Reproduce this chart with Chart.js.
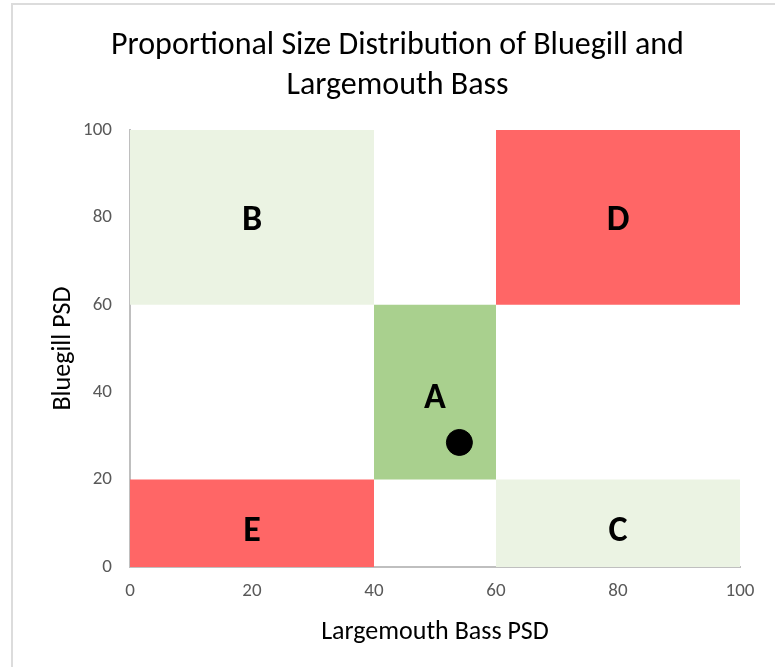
<!DOCTYPE html>
<html>
<head>
<meta charset="utf-8">
<script src="https://cdn.jsdelivr.net/npm/chart.js@4/dist/chart.umd.min.js"></script>
<style>
  body { margin: 0; background: #fff; }
  #wrap { position: relative; width: 775px; height: 667px; overflow: hidden; }
  #frame { position: absolute; left: 11px; top: 3px; width: 900px; height: 900px;
           border-left: 2px solid #dcdcdc; border-top: 2px solid #dcdcdc; pointer-events: none; }
</style>
</head>
<body>
<div id="wrap">
  <canvas id="grafico" width="775" height="667"></canvas>
  <div id="frame"></div>
</div>
<script>
// zonas (limites em PSD)
const zonas = ['A', 'B', 'C', 'D', 'E']
const zonaX0 = [40, 0, 60, 60, 0]
const zonaX1 = [60, 40, 100, 100, 40]
const zonaY0 = [20, 60, 0, 60, 0]
const zonaY1 = [60, 100, 20, 100, 20]
const zonaCores = ['#a9d08e', '#ebf3e3', '#ebf3e3', '#ff6666', '#ff6666']

// posicao das letras (centro)
const letraX = [50, 20, 80, 80, 20]
const letraY = [39.4, 80, 9, 80, 9]

// amostra
const bassPSD = [54]
const bluegillPSD = [28.5]

const ticks = [0, 20, 40, 60, 80, 100]

const fonte = 'Calibri, Carlito, Lato, sans-serif'

const datasets = zonas.map((z, i) => ({
    label: z,
    type: 'line',
    data: [{ x: zonaX0[i], y: zonaY1[i] }, { x: zonaX1[i], y: zonaY1[i] }],
    fill: { value: zonaY0[i] },
    backgroundColor: zonaCores[i],
    borderWidth: 0,
    pointRadius: 0,
    tension: 0,
    order: 2
}))

datasets.push({
    label: 'Amostra',
    type: 'scatter',
    data: bassPSD.map((v, i) => ({ x: v, y: bluegillPSD[i] })),
    backgroundColor: '#000',
    borderColor: '#000',
    pointRadius: 13,
    order: 1
})

// escreve as letras nas zonas
const letrasPlugin = {
    id: 'letras',
    afterDatasetsDraw(chart) {
        const ctx = chart.ctx
        const sx = chart.scales.x
        const sy = chart.scales.y
        const tam = 36
        ctx.save()
        ctx.font = 'bold ' + tam + 'px ' + fonte
        ctx.fillStyle = '#000'
        ctx.textAlign = 'center'
        ctx.textBaseline = 'alphabetic'
        zonas.forEach((z, i) => {
            // altura de maiuscula ~0.72em
            ctx.fillText(z, sx.getPixelForValue(letraX[i]), sy.getPixelForValue(letraY[i]) + tam * 0.36)
        })
        ctx.restore()
    }
}

new Chart(document.getElementById('grafico'), {
    type: 'scatter',
    data: { datasets: datasets },
    plugins: [letrasPlugin],
    options: {
        responsive: false,
        animation: false,
        layout: { padding: { left: 20, right: 0, top: 0, bottom: 0 } },
        plugins: {
            legend: { display: false },
            tooltip: { enabled: false },
            title: {
                display: true,
                text: ['Proportional Size Distribution of Bluegill and', 'Largemouth Bass'],
                color: '#000',
                font: { family: fonte, size: 32, weight: 'normal', lineHeight: 1.25 },
                padding: { top: 26, bottom: 24 }
            }
        },
        scales: {
            x: {
                type: 'linear',
                min: 0,
                max: 100,
                afterBuildTicks: s => { s.ticks = ticks.map(v => ({ value: v })) },
                grid: { display: false, drawTicks: false },
                border: { display: true, color: '#bfbfbf', width: 2 },
                ticks: { color: '#595959', padding: 13, font: { family: fonte, size: 19 } },
                title: {
                    display: true,
                    text: 'Largemouth Bass PSD',
                    color: '#000',
                    font: { family: fonte, size: 26 },
                    padding: { top: 10, bottom: 19 }
                },
                afterFit: s => { s.height = 100 }
            },
            y: {
                type: 'linear',
                min: 0,
                max: 100,
                afterBuildTicks: s => { s.ticks = ticks.map(v => ({ value: v })) },
                grid: { display: false, drawTicks: false },
                border: { display: true, color: '#bfbfbf', width: 2 },
                ticks: { color: '#595959', padding: 18, font: { family: fonte, size: 19 } },
                title: {
                    display: true,
                    text: 'Bluegill PSD',
                    color: '#000',
                    font: { family: fonte, size: 26 },
                    padding: { top: 28, bottom: 0 }
                },
                afterFit: s => { s.width = 110 }
            },
            // margem direita vazia
            y2: {
                type: 'linear',
                position: 'right',
                min: 0,
                max: 100,
                grid: { display: false, drawTicks: false },
                border: { display: false },
                ticks: { display: false },
                afterFit: s => { s.width = 35 }
            }
        }
    }
})
</script>
</body>
</html>
